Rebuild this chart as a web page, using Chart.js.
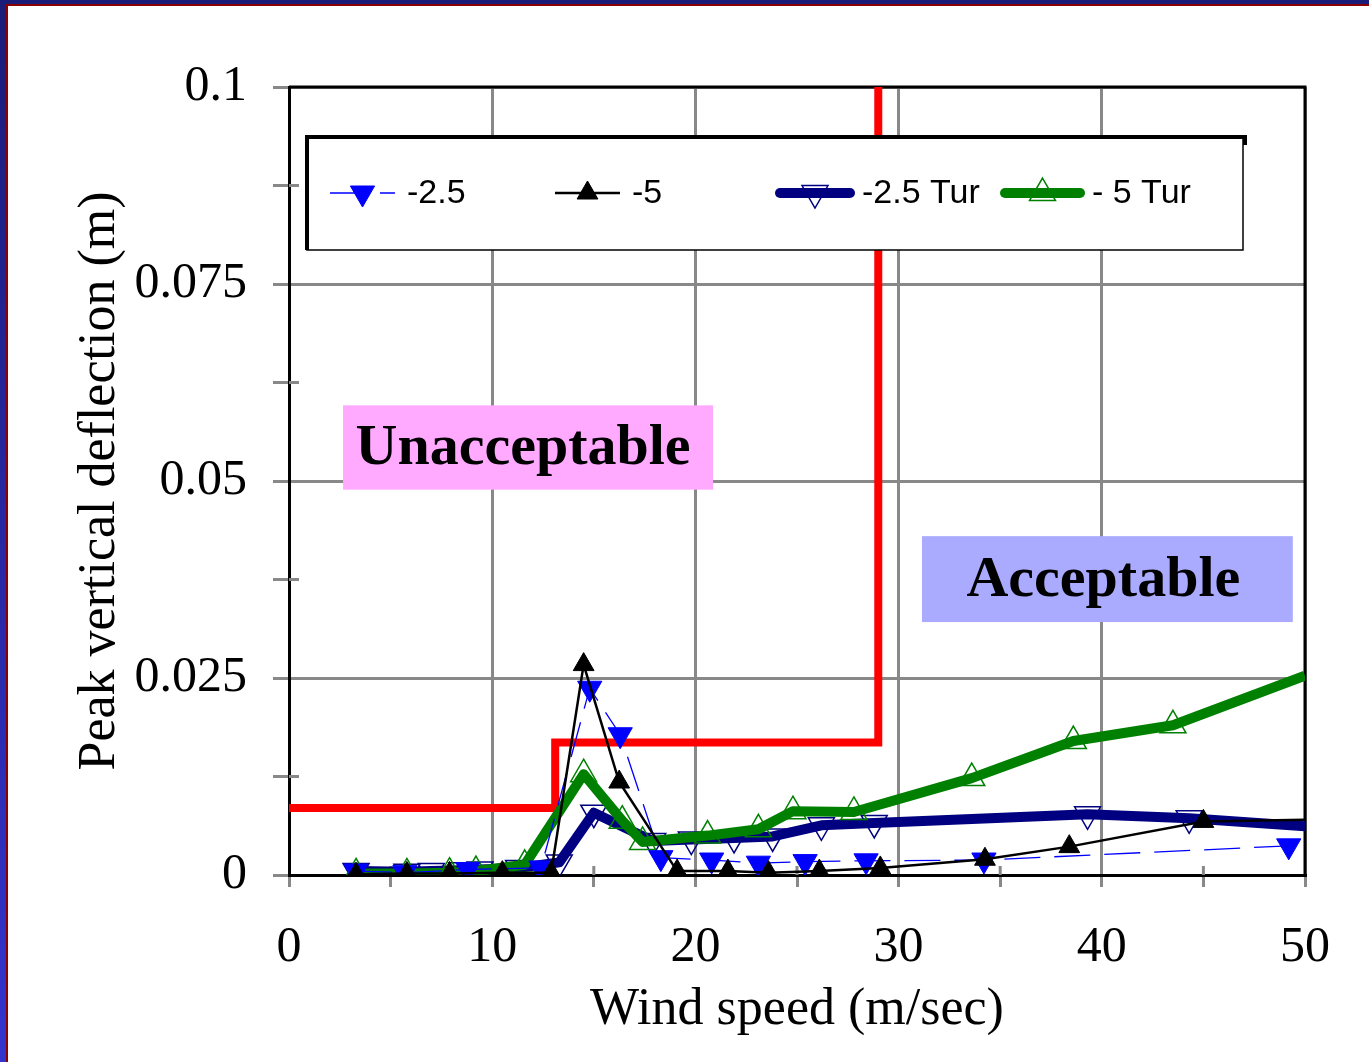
<!DOCTYPE html>
<html>
<head>
<meta charset="utf-8">
<script src="https://cdn.jsdelivr.net/npm/chart.js@4.4.1/dist/chart.umd.min.js"></script>
<style>
  html, body { margin: 0; padding: 0; background: #fff; overflow: hidden; }
  #frame { width: 1369px; height: 1062px; box-sizing: border-box; padding: 4px 0 0 6px; background: linear-gradient(#1b1b78, #3434cc); }
  #inner { width: 1363px; height: 1058px; box-sizing: border-box; border-left: 2px solid #8b0000; border-top: 2px solid #8b0000; background: #fff; }
  canvas { display: block; }
</style>
</head>
<body>
<div id="frame"><div id="inner"><canvas id="deflectionChart" width="1361" height="1056"></canvas></div></div>
<script>
// Wind speed (m/sec) vs peak vertical deflection (m)
const windA = [3.3, 5.7, 8.8, 12.4, 14.8, 16.3, 18.3, 20.8, 23.1, 25.4, 28.4, 34.2, 49.2];
const deflA = [0.0005, 0.0003, 0.0007, 0.0009, 0.0237, 0.0178, 0.0022, 0.0019, 0.0015, 0.0017, 0.0018, 0.0019, 0.0037];

const windB = [3.3, 5.8, 7.9, 10.5, 12.9, 14.5, 16.25, 19.1, 21.6, 23.6, 26.1, 29.1, 34.25, 38.4, 45.0, 50];
const deflB = [0.0001, 0.0002, 0.0002, 0.0003, 0.0003, 0.0267, 0.0118, 0.0005, 0.0005, 0.0003, 0.0005, 0.0009, 0.0020, 0.0036, 0.0068, 0.0070];

const windC = [3.3, 5.8, 7.0, 8.5, 9.4, 11.3, 13.3, 15.0, 17.9, 19.8, 21.9, 23.8, 26.2, 28.8, 39.3, 44.3, 50];
const deflC = [0.0005, 0.0004, 0.0005, 0.0006, 0.0007, 0.0009, 0.0016, 0.0079, 0.0043, 0.0045, 0.0047, 0.0049, 0.0063, 0.0066, 0.0077, 0.0072, 0.0062];

const windD = [3.3, 5.8, 7.9, 9.2, 11.6, 14.5, 16.4, 17.4, 20.6, 23.1, 24.8, 27.8, 33.6, 38.6, 43.5, 50];
const deflD = [0.0002, 0.0002, 0.0003, 0.0005, 0.0013, 0.0128, 0.0069, 0.0042, 0.0050, 0.0058, 0.0081, 0.0080, 0.0123, 0.0170, 0.0190, 0.0253];

// acceptance limit (step line)
const windLimit = [0, 13.1, 13.1, 29.0, 29.0];
const deflLimit = [0.0085, 0.0085, 0.0168, 0.0168, 0.1];

const seriesNames = ["-2.5", "-5", "-2.5 Tur", "- 5 Tur"];
const regionLabels = ["Unacceptable", "Acceptable"];

// region boxes in data units
const unacceptableBox = { x0: 2.66, x1: 20.87, y0: 0.0596, y1: 0.0489, fill: "#ffaaff", shift: -5 };
const acceptableBox = { x0: 31.15, x1: 49.4, y0: 0.0430, y1: 0.0321, fill: "#aaaaff", shift: -4 };

const toPoints = (xs, ys) => xs.map((x, i) => ({ x: x, y: ys[i] }));

const serif = "'Liberation Serif', 'Times New Roman', serif";
Chart.defaults.font.family = serif;
Chart.defaults.color = "#000";

// marker sizes, also used for the legend
const markerSize = [14, 12, 15, 15];
// no marker on the points sitting on the right frame
const radiusFor = (xs, r) => xs.map((x) => (x >= 50 ? 0 : r));

// Triangle marker, same geometry as Chart.js
const drawTriangle = (ctx, x, y, r, down) => {
  let rad = down ? Math.PI : 0;
  ctx.beginPath();
  for (let k = 0; k < 3; k++) {
    const px = x + Math.sin(rad) * r;
    const py = y - Math.cos(rad) * r;
    if (k === 0) ctx.moveTo(px, py); else ctx.lineTo(px, py);
    rad += (2 * Math.PI) / 3;
  }
  ctx.closePath();
};

const overlayPlugin = {
  id: "overlay",
  beforeDatasetsDraw(chart) {
    const { ctx, chartArea: a, scales } = chart;
    ctx.save();
    // inner part of the minor ticks
    ctx.strokeStyle = "#888";
    ctx.lineWidth = 3;
    scales.x.ticks.forEach((t) => {
      if (Math.round(t.value) % 10 !== 0) {
        const px = scales.x.getPixelForValue(t.value);
        ctx.beginPath(); ctx.moveTo(px, a.bottom - 9); ctx.lineTo(px, a.bottom); ctx.stroke();
      }
    });
    scales.y.ticks.forEach((t) => {
      if (Math.round(t.value / 0.0125) % 2 === 1) {
        const py = scales.y.getPixelForValue(t.value);
        ctx.beginPath(); ctx.moveTo(a.left, py); ctx.lineTo(a.left + 10, py); ctx.stroke();
      }
    });
    // top and right frame of the plot
    ctx.strokeStyle = "#000";
    ctx.lineWidth = 3;
    ctx.beginPath();
    ctx.moveTo(a.left, a.top);
    ctx.lineTo(a.right, a.top);
    ctx.lineTo(a.right, a.bottom);
    ctx.stroke();
    ctx.restore();
  },
  afterDatasetsDraw(chart) {
    const { ctx, chartArea: a, scales } = chart;
    ctx.save();

    // region labels
    [unacceptableBox, acceptableBox].forEach((b, i) => {
      const x0 = scales.x.getPixelForValue(b.x0);
      const x1 = scales.x.getPixelForValue(b.x1);
      const y0 = scales.y.getPixelForValue(b.y0);
      const y1 = scales.y.getPixelForValue(b.y1);
      ctx.fillStyle = b.fill;
      ctx.fillRect(x0, y0, x1 - x0, y1 - y0);
      ctx.fillStyle = "#000";
      ctx.font = "bold 58px " + serif;
      ctx.textAlign = "center";
      ctx.textBaseline = "middle";
      ctx.fillText(regionLabels[i], (x0 + x1) / 2 + b.shift, (y0 + y1) / 2 + 2);
    });

    // legend box
    const lx = a.left + 18, ly = a.top + 50, lw = 936, lh = 113;
    ctx.fillStyle = "#fff";
    ctx.fillRect(lx, ly, lw, lh);
    ctx.strokeStyle = "#000";
    ctx.lineWidth = 1.5;
    ctx.strokeRect(lx, ly, lw, lh);
    ctx.lineWidth = 4;
    ctx.beginPath();
    ctx.moveTo(lx, ly + lh);
    ctx.lineTo(lx, ly);
    ctx.lineTo(lx + lw + 2, ly);
    ctx.lineTo(lx + lw + 2, ly + 8);
    ctx.stroke();

    const rowY = ly + 56;
    const starts = [23, 248, 473, 698];
    const widths = [65, 65, 70, 75];
    chart.data.datasets.slice(0, 4).forEach((ds, i) => {
      const s = lx + starts[i];
      const e = s + widths[i];
      ctx.strokeStyle = ds.borderColor;
      ctx.lineWidth = ds.borderWidth;
      ctx.lineCap = ds.borderWidth > 5 ? "round" : "butt";
      ctx.setLineDash(ds.borderDash || []);
      ctx.beginPath(); ctx.moveTo(s, rowY); ctx.lineTo(e, rowY); ctx.stroke();
      ctx.setLineDash([]);
      ctx.lineCap = "butt";
      drawTriangle(ctx, (s + e) / 2, rowY, markerSize[i], ds.pointRotation === 180);
      ctx.fillStyle = ds.pointBackgroundColor;
      ctx.fill();
      ctx.strokeStyle = ds.pointBorderColor;
      ctx.lineWidth = ds.pointBorderWidth;
      ctx.stroke();
      ctx.fillStyle = "#000";
      ctx.font = "34px 'Liberation Sans', Arial, sans-serif";
      ctx.textAlign = "left";
      ctx.textBaseline = "middle";
      ctx.fillText(ds.label, e + 12, rowY + 1);
    });
    ctx.restore();
  }
};

const ctx = document.getElementById("deflectionChart").getContext("2d");
new Chart(ctx, {
  type: "line",
  data: {
    datasets: [
      {
        label: seriesNames[0],
        data: toPoints(windA, deflA),
        borderColor: "#0000ff",
        borderWidth: 1.3,
        borderDash: [36, 14],
        pointStyle: "triangle",
        pointRotation: 180,
        pointRadius: markerSize[0],
        pointHoverRadius: markerSize[0],
        pointBackgroundColor: "#0000ff",
        pointBorderColor: "#0000ff",
        pointBorderWidth: 1,
        order: 1
      },
      {
        label: seriesNames[1],
        data: toPoints(windB, deflB),
        borderColor: "#000000",
        borderWidth: 2.5,
        pointStyle: "triangle",
        pointRotation: 0,
        pointRadius: radiusFor(windB, markerSize[1]),
        pointHoverRadius: markerSize[1],
        pointBackgroundColor: "#000000",
        pointBorderColor: "#000000",
        pointBorderWidth: 1,
        order: 0
      },
      {
        label: seriesNames[2],
        data: toPoints(windC, deflC),
        borderColor: "#000080",
        borderWidth: 10,
        borderJoinStyle: "round",
        pointStyle: "triangle",
        pointRotation: 180,
        pointRadius: radiusFor(windC, markerSize[2]),
        pointHoverRadius: markerSize[2],
        pointBackgroundColor: "rgba(0,0,0,0)",
        pointBorderColor: "#000080",
        pointBorderWidth: 1.5,
        order: 3
      },
      {
        label: seriesNames[3],
        data: toPoints(windD, deflD),
        borderColor: "#008000",
        borderWidth: 10,
        borderJoinStyle: "round",
        pointStyle: "triangle",
        pointRotation: 0,
        pointRadius: radiusFor(windD, markerSize[3]),
        pointHoverRadius: markerSize[3],
        pointBackgroundColor: "rgba(0,0,0,0)",
        pointBorderColor: "#008000",
        pointBorderWidth: 1.5,
        order: 2
      },
      {
        label: "limit",
        data: toPoints(windLimit, deflLimit),
        borderColor: "#ff0000",
        borderWidth: 8,
        borderCapStyle: "round",
        borderJoinStyle: "miter",
        pointRadius: 0,
        pointHoverRadius: 0,
        order: 5
      }
    ]
  },
  options: {
    responsive: false,
    animation: false,
    layout: { padding: { top: 81, right: 64, left: 0, bottom: 0 } },
    plugins: { legend: { display: false }, tooltip: { enabled: false } },
    scales: {
      x: {
        type: "linear",
        min: 0,
        max: 50,
        afterFit: (scale) => { scale.height = 187; },
        ticks: {
          stepSize: 5,
          padding: 31,
          font: { size: 50 },
          color: "#000",
          maxRotation: 0,
          callback: (v) => (Math.round(v) % 10 === 0 ? String(v) : "")
        },
        grid: {
          color: (c) => (c.tick && Math.round(c.tick.value) % 10 === 0 ? "#888" : "rgba(0,0,0,0)"),
          tickColor: "#888",
          lineWidth: 3,
          tickLength: 12
        },
        border: { color: "#000", width: 3 },
        title: {
          display: true,
          text: "Wind speed (m/sec)",
          font: { size: 52 },
          color: "#000",
          padding: { top: 0, bottom: 20 }
        }
      },
      y: {
        min: 0,
        max: 0.1,
        afterFit: (scale) => { scale.width = 281; },
        ticks: {
          stepSize: 0.0125,
          padding: 26,
          font: { size: 50 },
          color: "#000",
          callback: (v) => (Math.round(v / 0.0125) % 2 === 0 ? String(+v.toFixed(4)) : "")
        },
        grid: {
          color: (c) => (c.tick && Math.round(c.tick.value / 0.0125) % 2 === 0 ? "#888" : "rgba(0,0,0,0)"),
          tickColor: "#888",
          lineWidth: 3,
          tickLength: 16
        },
        border: { color: "#000", width: 3 },
        title: {
          display: true,
          text: "Peak vertical deflection (m)",
          font: { size: 52 },
          color: "#000",
          padding: { top: 61, bottom: 0 }
        }
      }
    }
  },
  plugins: [overlayPlugin]
});
</script>
</body>
</html>
